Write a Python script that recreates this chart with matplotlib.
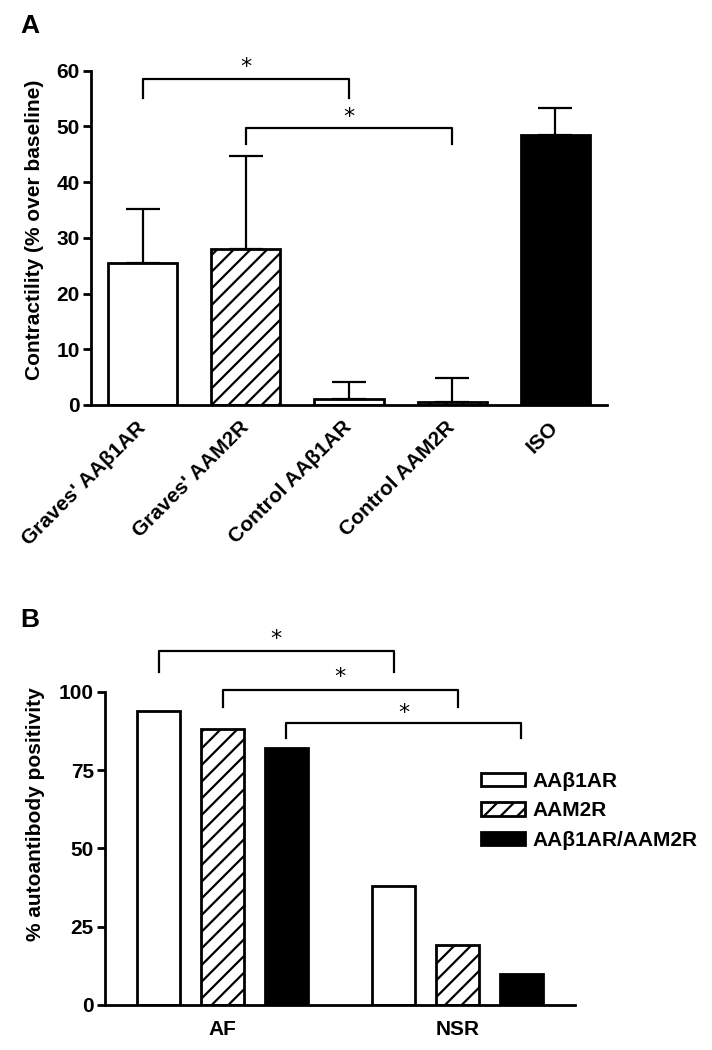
import matplotlib
matplotlib.use('Agg')
import matplotlib.pyplot as plt
from matplotlib.patches import Patch
import numpy as np

plt.rcParams['font.family'] = ['Liberation Sans', 'DejaVu Sans']
plt.rcParams['font.weight'] = 'bold'
plt.rcParams['hatch.linewidth'] = 1.6

# Panel A data
a_labels = ["Graves' AA\u03b21AR", "Graves' AAM2R", "Control AA\u03b21AR", "Control AAM2R", "ISO"]
a_values = [25.5, 28.0, 1.0, 0.6, 48.5]
a_err = [9.6, 16.6, 3.2, 4.2, 4.8]
a_fill = ['white', 'white', 'white', 'white', 'black']
a_hatch = [None, '//', None, '//', None]

# Panel B data
b_groups = ['AF', 'NSR']
b_series = ['AA\u03b21AR', 'AAM2R', 'AA\u03b21AR/AAM2R']
b_aa_b1 = [94, 38]
b_aam2 = [88, 19]
b_both = [82, 10]

fig = plt.figure(figsize=(7.12, 10.5), dpi=100)

# ---------- Panel A ----------
axA = fig.add_axes([0.1278, 0.6143, 0.7247, 0.3343])
xa = np.arange(len(a_labels))
for i in range(len(xa)):
    axA.bar(xa[i], a_values[i], width=0.67, color=a_fill[i], edgecolor='black',
            linewidth=2, hatch=a_hatch[i], zorder=2)
axA.errorbar(xa, a_values, yerr=[np.zeros(len(xa)), a_err], fmt='none', ecolor='black',
             elinewidth=1.6, capsize=12, capthick=1.6, zorder=3)

axA.set_xlim(-0.5, 4.5)
axA.set_ylim(0, 63)
axA.set_yticks(range(0, 61, 10))
axA.spines['left'].set_bounds(0, 60)
axA.spines['top'].set_visible(False)
axA.spines['right'].set_visible(False)
for s in ['left', 'bottom']:
    axA.spines[s].set_linewidth(2)
axA.set_xticks(xa)
axA.set_xticklabels(a_labels, rotation=45, ha='right', va='center', rotation_mode='anchor',
                    fontsize=15, fontweight='bold')
axA.tick_params(axis='x', length=0, pad=14)
axA.tick_params(axis='y', length=6, width=2, labelsize=15, pad=2)
axA.set_ylabel('Contractility (% over baseline)', fontsize=15, fontweight='bold', labelpad=9)


def bracket(ax, x1, x2, y, drop, gap):
    ax.plot([x1, x1, x2, x2], [y - drop, y, y, y - drop], color='black', lw=1.6,
            clip_on=False, zorder=4)
    ax.text((x1 + x2) / 2, y + gap, '*', ha='center', va='baseline', fontsize=16,
            fontweight='normal', family='DejaVu Sans', clip_on=False)


bracket(axA, 0, 2, 58.5, 3.4, 1.0)
bracket(axA, 1, 3, 49.7, 2.8, 1.0)

# ---------- Panel B ----------
axB = fig.add_axes([0.1475, 0.0429, 0.6601, 0.3638])
xb = np.arange(len(b_groups))
off = 0.272
w = 0.183
axB.bar(xb - off, b_aa_b1, width=w, color='white', edgecolor='black', linewidth=2, zorder=2)
axB.bar(xb, b_aam2, width=w, color='white', edgecolor='black', linewidth=2, hatch='//', zorder=2)
axB.bar(xb + off, b_both, width=w, color='black', edgecolor='black', linewidth=2, zorder=2)

axB.set_xlim(-0.5, 1.5)
axB.set_ylim(0, 122)
axB.set_yticks([0, 25, 50, 75, 100])
axB.spines['left'].set_bounds(0, 100)
axB.spines['top'].set_visible(False)
axB.spines['right'].set_visible(False)
for s in ['left', 'bottom']:
    axB.spines[s].set_linewidth(2)
axB.set_xticks(xb)
axB.set_xticklabels(b_groups, fontsize=15, fontweight='bold')
axB.tick_params(axis='x', length=0, pad=11)
axB.tick_params(axis='y', length=6, width=2, labelsize=15, pad=2)
axB.set_ylabel('% autoantibody positivity', fontsize=15, fontweight='bold', labelpad=10)

bracket(axB, -off, 1 - off, 113, 6.6, 2.0)
bracket(axB, 0, 1, 100.7, 5.5, 2.0)
bracket(axB, off, 1 + off, 89.9, 4.6, 1.5)

handles = [Patch(facecolor='white', edgecolor='black', linewidth=2),
           Patch(facecolor='white', edgecolor='black', linewidth=2, hatch='//'),
           Patch(facecolor='black', edgecolor='black', linewidth=2)]
axB.legend(handles, b_series, loc='upper left', bbox_to_anchor=(0.8, 0.61), frameon=False,
           borderpad=0, borderaxespad=0, handlelength=2.1, handleheight=0.6,
           handletextpad=0.35, labelspacing=0.5, prop={'size': 15, 'weight': 'bold'})

fig.text(20 / 712, 1 - 33 / 1050, 'A', fontsize=19, fontweight='bold', va='baseline')
fig.text(20 / 712, 1 - 627 / 1050, 'B', fontsize=19, fontweight='bold', va='baseline')

fig.savefig('out.png', dpi=100)
